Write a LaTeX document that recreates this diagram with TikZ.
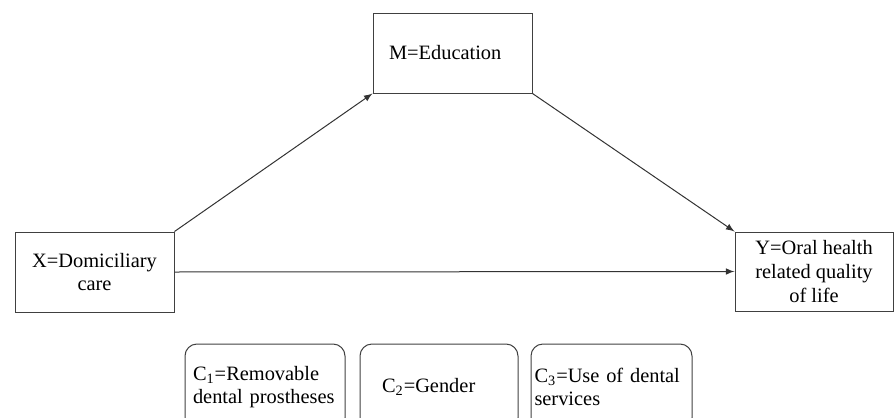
\documentclass[tikz,border=0pt]{standalone}
\usepackage{fontspec}
\setmainfont{Liberation Serif}
\usepackage{tikz}

\begin{document}
\begin{tikzpicture}[x=0.5pt, y=-0.5pt,
        every node/.style={font=\fontsize{10.2}{11.8}\selectfont, inner sep=0pt},
        varbox/.style={draw=black!75, line width=0.5pt, minimum width=79.5pt, minimum height=40pt},
        covbox/.style={draw=black!75, line width=0.5pt, rounded corners=6pt, minimum height=43pt, align=left},
        path/.style={draw=black!80, line width=0.5pt, -latex}]
        \useasboundingbox (0,0) rectangle (895,418);
        \clip (0,0) rectangle (895,418);

        \node[varbox, text width=63.5pt, align=left] (m) at (452.5,53) {M=Education};
        \node[varbox, align=center] (x) at (94.5,272) {X=Domiciliary\\care};
        \node[varbox, minimum width=79pt, minimum height=39.5pt, align=center] (y) at (814,271.5) {Y=Oral health\\related quality\\of life};

        \node[covbox, minimum width=80pt, text width=72pt] (c1) at (265,387) {C\textsubscript{1}=Removable\\dental prostheses};
        \node[covbox, minimum width=79pt, text width=57pt] (c2) at (439,387) {C\textsubscript{2}=Gender};
        \node[covbox, minimum width=80.5pt, text width=77pt] (c3) at (611.5,387) {C\textsubscript{3}=Use of dental\\services};

        \draw[path] (x.north east) -- (m.south west);
        \draw[path] (m.south east) -- (y.north west);
        \draw[path] (x.east) -- (y.west);
    \end{tikzpicture}
\end{document}
